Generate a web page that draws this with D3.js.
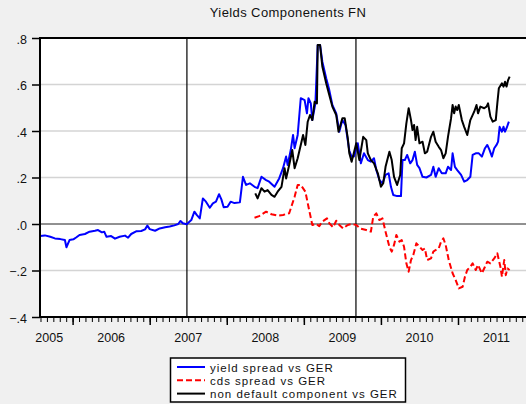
<!DOCTYPE html>
<html>
<head>
<meta charset="utf-8">
<script src="https://cdn.jsdelivr.net/npm/d3@7"></script>
<style>
  html, body { margin: 0; padding: 0; background: #f0f0f0; }
  svg text { font-family: "Liberation Sans", Arial, sans-serif; fill: #111; }
</style>
</head>
<body>
<div id="canvas"></div>
<script>
// time in fractional years, values in percentage points
const yieldSpread = [
  [2005.58,-0.052],[2005.64,-0.049],[2005.71,-0.055],[2005.77,-0.062],[2005.84,-0.065],[2005.90,-0.069],
  [2005.92,-0.100],[2005.96,-0.069],[2006.01,-0.066],[2006.05,-0.057],[2006.09,-0.047],[2006.16,-0.043],
  [2006.22,-0.033],[2006.29,-0.029],[2006.33,-0.026],[2006.38,-0.036],[2006.41,-0.033],[2006.44,-0.055],
  [2006.50,-0.052],[2006.55,-0.063],[2006.61,-0.055],[2006.68,-0.050],[2006.72,-0.059],[2006.76,-0.043],
  [2006.83,-0.031],[2006.89,-0.030],[2006.94,-0.023],[2006.97,-0.007],[2007.00,-0.022],[2007.07,-0.029],
  [2007.13,-0.019],[2007.20,-0.014],[2007.26,-0.011],[2007.32,-0.006],[2007.37,0.000],[2007.40,0.013],
  [2007.43,0.003],[2007.48,-0.001],[2007.54,0.017],[2007.58,0.053],[2007.61,0.039],[2007.65,0.024],
  [2007.69,0.110],[2007.73,0.096],[2007.78,0.070],[2007.82,0.089],[2007.86,0.096],[2007.90,0.128],
  [2007.93,0.106],[2007.96,0.072],[2008.01,0.074],[2008.05,0.096],[2008.10,0.090],[2008.17,0.093],
  [2008.21,0.203],[2008.25,0.168],[2008.30,0.175],[2008.36,0.160],[2008.40,0.154],[2008.45,0.203],
  [2008.51,0.189],[2008.55,0.182],[2008.62,0.160],[2008.68,0.196],[2008.73,0.240],[2008.77,0.290],
  [2008.79,0.254],[2008.83,0.318],[2008.86,0.383],[2008.88,0.326],[2008.92,0.383],[2008.96,0.541],
  [2009.01,0.533],[2009.04,0.476],[2009.06,0.541],[2009.09,0.519],[2009.11,0.447],[2009.15,0.519],
  [2009.18,0.770],[2009.21,0.770],[2009.24,0.698],[2009.29,0.627],[2009.33,0.576],[2009.37,0.512],
  [2009.42,0.476],[2009.46,0.397],[2009.50,0.447],[2009.54,0.426],[2009.59,0.315],[2009.62,0.290],
  [2009.65,0.290],[2009.70,0.347],[2009.74,0.261],[2009.78,0.304],[2009.83,0.275],[2009.87,0.268],
  [2009.91,0.283],[2009.94,0.232],[2009.98,0.189],[2010.02,0.175],[2010.06,0.211],[2010.10,0.218],
  [2010.13,0.160],[2010.16,0.125],[2010.21,0.120],[2010.26,0.120],[2010.28,0.275],[2010.31,0.275],
  [2010.34,0.297],[2010.38,0.261],[2010.41,0.275],[2010.44,0.311],[2010.47,0.254],[2010.50,0.240],
  [2010.54,0.203],[2010.59,0.200],[2010.65,0.211],[2010.68,0.246],[2010.71,0.203],[2010.75,0.240],
  [2010.79,0.218],[2010.84,0.218],[2010.87,0.246],[2010.91,0.232],[2010.93,0.304],[2010.96,0.246],
  [2010.99,0.232],[2011.04,0.211],[2011.08,0.182],[2011.12,0.189],[2011.16,0.203],[2011.19,0.297],
  [2011.23,0.304],[2011.27,0.304],[2011.31,0.290],[2011.35,0.326],[2011.38,0.340],[2011.41,0.318],
  [2011.44,0.290],[2011.47,0.326],[2011.50,0.340],[2011.52,0.354],[2011.54,0.418],[2011.57,0.397],
  [2011.59,0.418],[2011.61,0.397],[2011.63,0.412],[2011.66,0.440]
];

const cdsSpread = [
  [2008.36,0.027],[2008.42,0.034],[2008.51,0.053],[2008.58,0.042],[2008.66,0.036],[2008.73,0.039],
  [2008.81,0.046],[2008.88,0.117],[2008.92,0.168],[2008.96,0.168],[2009.02,0.139],[2009.06,0.074],
  [2009.11,-0.004],[2009.16,0.000],[2009.20,-0.009],[2009.24,0.010],[2009.30,0.024],[2009.33,0.003],
  [2009.38,-0.014],[2009.42,0.014],[2009.46,-0.004],[2009.51,-0.019],[2009.57,-0.004],[2009.62,0.000],
  [2009.68,-0.004],[2009.73,-0.019],[2009.81,-0.026],[2009.87,-0.033],[2009.90,0.031],[2009.94,0.046],
  [2009.98,0.017],[2010.02,0.024],[2010.06,-0.033],[2010.11,-0.098],[2010.14,-0.119],[2010.17,-0.090],
  [2010.20,-0.047],[2010.24,-0.076],[2010.27,-0.069],[2010.30,-0.098],[2010.33,-0.169],[2010.36,-0.205],
  [2010.39,-0.155],[2010.42,-0.133],[2010.46,-0.083],[2010.50,-0.098],[2010.54,-0.112],[2010.57,-0.105],
  [2010.60,-0.155],[2010.65,-0.148],[2010.68,-0.119],[2010.71,-0.112],[2010.75,-0.105],[2010.78,-0.076],
  [2010.81,-0.062],[2010.84,-0.090],[2010.88,-0.155],[2010.93,-0.212],[2010.97,-0.241],[2011.01,-0.277],
  [2011.06,-0.270],[2011.09,-0.227],[2011.12,-0.198],[2011.16,-0.184],[2011.19,-0.169],[2011.23,-0.198],
  [2011.26,-0.176],[2011.31,-0.212],[2011.35,-0.184],[2011.38,-0.162],[2011.42,-0.169],[2011.47,-0.148],
  [2011.51,-0.126],[2011.55,-0.184],[2011.57,-0.227],[2011.60,-0.155],[2011.62,-0.220],[2011.64,-0.191],
  [2011.67,-0.198]
];

const nonDefault = [
  [2008.37,0.132],[2008.40,0.110],[2008.45,0.154],[2008.49,0.139],[2008.53,0.146],[2008.58,0.125],
  [2008.62,0.117],[2008.66,0.139],[2008.71,0.160],[2008.75,0.240],[2008.77,0.196],[2008.81,0.254],
  [2008.85,0.318],[2008.88,0.240],[2008.92,0.283],[2008.96,0.340],[2008.99,0.383],[2009.02,0.340],
  [2009.05,0.440],[2009.08,0.469],[2009.11,0.447],[2009.14,0.526],[2009.17,0.519],[2009.18,0.770],
  [2009.21,0.770],[2009.24,0.677],[2009.29,0.605],[2009.33,0.555],[2009.37,0.505],[2009.42,0.469],
  [2009.45,0.397],[2009.50,0.455],[2009.53,0.455],[2009.57,0.369],[2009.59,0.304],[2009.62,0.268],
  [2009.68,0.347],[2009.72,0.275],[2009.77,0.375],[2009.81,0.361],[2009.83,0.304],[2009.87,0.275],
  [2009.91,0.261],[2009.96,0.218],[2010.00,0.160],[2010.03,0.175],[2010.06,0.246],[2010.11,0.311],
  [2010.14,0.275],[2010.17,0.203],[2010.21,0.168],[2010.25,0.211],[2010.27,0.326],[2010.30,0.347],
  [2010.33,0.433],[2010.36,0.498],[2010.39,0.447],[2010.41,0.404],[2010.43,0.426],[2010.45,0.361],
  [2010.47,0.418],[2010.50,0.347],[2010.54,0.354],[2010.57,0.304],[2010.60,0.311],[2010.65,0.375],
  [2010.68,0.397],[2010.71,0.354],[2010.75,0.332],[2010.78,0.318],[2010.81,0.283],[2010.84,0.304],
  [2010.87,0.375],[2010.91,0.455],[2010.93,0.512],[2010.95,0.476],[2010.97,0.505],[2010.99,0.490],
  [2011.01,0.512],[2011.05,0.447],[2011.08,0.418],[2011.12,0.383],[2011.16,0.447],[2011.21,0.483],
  [2011.24,0.512],[2011.26,0.476],[2011.29,0.505],[2011.34,0.498],[2011.37,0.505],[2011.39,0.519],
  [2011.42,0.462],[2011.45,0.440],[2011.49,0.447],[2011.51,0.519],[2011.53,0.584],[2011.57,0.605],
  [2011.59,0.591],[2011.61,0.612],[2011.63,0.591],[2011.65,0.619],[2011.67,0.634]
];

const yearLabels = [2005, 2006, 2007, 2008, 2009, 2010, 2011];
const yTicks = [-0.4, -0.2, 0, 0.2, 0.4, 0.6, 0.8];
const gridTicks = [-0.2, 0.2, 0.4, 0.6];
const eventLines = [2007.483, 2009.676];
const seriesNames = ["yield spread vs GER", "cds spread vs GER", "non default component vs GER"];
const seriesColors = ["#0000ff", "#ff0000", "#000000"];

const width = 526, height = 404;
const margin = {top: 38, left: 40, bottom: 317, right: 532};

const svg = d3.select("#canvas").append("svg").attr("width", width).attr("height", height);
svg.append("rect").attr("width", width).attr("height", height).attr("fill", "#f0f0f0");

var x = d3.scaleLinear().domain([2005.577, 2011.96]).range([margin.left, margin.right]);
var y = d3.scaleLinear().domain([-0.4, 0.8]).range([margin.bottom, margin.top]);

// plot area
svg.append("rect")
    .attr("x", margin.left).attr("y", margin.top)
    .attr("width", margin.right - margin.left).attr("height", margin.bottom - margin.top)
    .attr("fill", "#ffffff");

svg.append("g").selectAll("line")
    .data(gridTicks)
    .enter().append("line")
    .attr("x1", margin.left).attr("x2", margin.right)
    .attr("y1", d => y(d)).attr("y2", d => y(d))
    .attr("stroke", "#d4d4d4").attr("stroke-width", 1.5);

svg.append("line")
    .attr("x1", margin.left).attr("x2", margin.right)
    .attr("y1", y(0)).attr("y2", y(0))
    .attr("stroke", "#222").attr("stroke-width", 1);

svg.append("g").selectAll("line")
    .data(eventLines)
    .enter().append("line")
    .attr("x1", d => x(d)).attr("x2", d => x(d))
    .attr("y1", margin.top).attr("y2", margin.bottom)
    .attr("stroke", "#000").attr("stroke-width", 1.2);

// series
const line = d3.line().x(d => x(d[0])).y(d => y(d[1]));
[yieldSpread, cdsSpread, nonDefault].forEach((s, i) => {
    svg.append("path")
        .datum(s)
        .attr("d", line)
        .attr("fill", "none")
        .attr("stroke", seriesColors[i])
        .attr("stroke-width", 2)
        .attr("stroke-linejoin", "round")
        .attr("stroke-dasharray", i == 1 ? "6,3" : null);
});

// y axis
const yAxis = svg.append("g")
    .attr("transform", "translate(" + margin.left + ",0)")
    .call(d3.axisLeft(y).tickValues(yTicks).tickSize(8).tickPadding(5)
        .tickFormat(d => d3.format(".1f")(d).replace("0.", ".")));
yAxis.select(".domain").remove();
yAxis.selectAll("line").attr("stroke", "#000").attr("stroke-width", 1.5);
yAxis.selectAll("text").style("font-size", "12.5px").attr("dy", "0.4em");

// x axis: monthly minor ticks, yearly major ticks
const minor = d3.range(Math.ceil(x.domain()[0] * 12), Math.floor(x.domain()[1] * 12) + 1).map(m => m / 12);
const xMinor = svg.append("g")
    .attr("transform", "translate(0," + margin.bottom + ")")
    .call(d3.axisBottom(x).tickValues(minor).tickSize(5).tickFormat(""));
xMinor.select(".domain").remove();
xMinor.selectAll("line").attr("stroke", "#000").attr("stroke-width", 1);

const xMajor = svg.append("g")
    .attr("transform", "translate(0," + margin.bottom + ")")
    .call(d3.axisBottom(x).tickValues(d3.range(2006, 2012)).tickSize(8).tickFormat(""));
xMajor.select(".domain").remove();
xMajor.selectAll("line").attr("stroke", "#000").attr("stroke-width", 1.5);

const labelPos = yearLabels.map(yr => Math.max(yr + 0.5, x.domain()[0] + 0.12));
svg.append("g").selectAll("text")
    .data(yearLabels)
    .enter().append("text")
    .attr("x", (d, i) => x(labelPos[i]))
    .attr("y", 342)
    .attr("text-anchor", "middle")
    .style("font-size", "12.5px")
    .text(d => d);

// frame
svg.append("line").attr("x1", margin.left - 1).attr("x2", width)
    .attr("y1", margin.top).attr("y2", margin.top).attr("stroke", "#000").attr("stroke-width", 2);
svg.append("line").attr("x1", margin.left).attr("x2", margin.left)
    .attr("y1", margin.top).attr("y2", margin.bottom + 1).attr("stroke", "#000").attr("stroke-width", 2);
svg.append("line").attr("x1", margin.left - 1).attr("x2", width)
    .attr("y1", margin.bottom).attr("y2", margin.bottom).attr("stroke", "#000").attr("stroke-width", 2);

// title
svg.append("text")
    .attr("x", 288).attr("y", 17)
    .attr("text-anchor", "middle")
    .style("font-size", "13px")
    .style("letter-spacing", "0.4px")
    .text("Yields Componenents FN");

// legend
const legend = svg.append("g");
legend.append("rect")
    .attr("x", 170.5).attr("y", 358).attr("width", 235).attr("height", 44)
    .attr("fill", "#fff").attr("stroke", "#000").attr("stroke-width", 1.5);
seriesNames.forEach((name, i) => {
    const ly = 367 + i * 13.3;
    legend.append("line")
        .attr("x1", 177).attr("x2", 205).attr("y1", ly).attr("y2", ly)
        .attr("stroke", seriesColors[i]).attr("stroke-width", 2)
        .attr("stroke-dasharray", i == 1 ? "6,3" : null);
    legend.append("text")
        .attr("x", 210).attr("y", ly + 4.5)
        .style("font-size", "11.5px")
        .style("letter-spacing", "1px")
        .text(name);
});
</script>
</body>
</html>
